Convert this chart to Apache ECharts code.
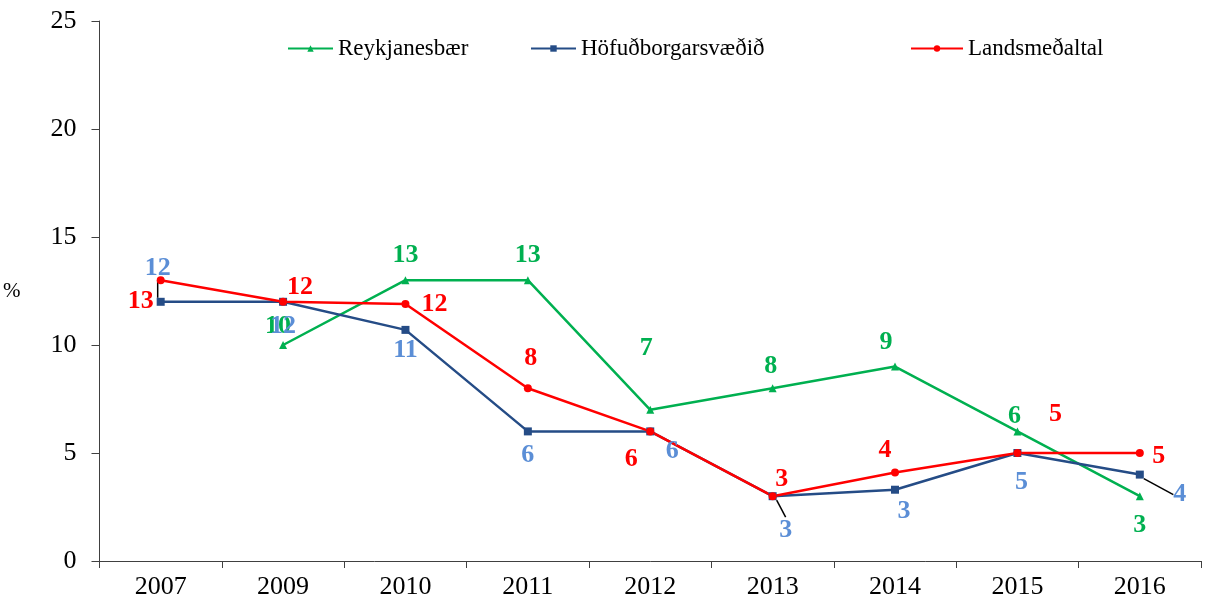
<!DOCTYPE html>
<html>
<head>
<meta charset="utf-8">
<script src="https://cdn.jsdelivr.net/npm/echarts@6/dist/echarts.min.js"></script>
<style>
html,body{margin:0;padding:0;background:#fff;}
#chart{width:1205px;height:605px;}
</style>
</head>
<body>
<div id="chart"></div>
<script>
const categories = ['2007','2009','2010','2011','2012','2013','2014','2015','2016'];
const reykjanesbaer = [null, 10, 13, 13, 7, 8, 9, 6, 3];
const hofudborgarsvaedid = [12, 12, 10.7, 6, 6, 3, 3.3, 5, 4];
const landsmedaltal = [13, 12, 11.9, 8, 6, 3, 4.1, 5, 5];
const seriesNames = ['Reykjanesbær', 'Höfuðborgarsvæðið', 'Landsmeðaltal'];

// label offsets (px) relative to each point
const offGreen = [[0,0],[-5,-19],[0,-25],[0,-25],[-4,-62],[-2,-22],[-9,-24],[-3,-15],[0,29]];
const offBlue  = [[-3,-34],[0,24],[0,20],[0,24],[22,20],[13,34],[9,22],[4,29],[40,20]];
const offRed   = [[-20,21],[17,-15],[29,0],[3,-30],[-19,28],[9,-17],[-10,-22],[38,-39],[19,3]];
const blueLeaders = [0, 5, 8];

const FONT = "'Liberation Serif','Times New Roman',serif";

function labelFmt(p){ return Math.round(p.value); }

function makeData(vals, leaders){
  return vals.map((v,i)=>{
    const item = {value: v};
    if (leaders && leaders.indexOf(i) >= 0) item.labelLine = {show: true};
    return item;
  });
}

function mkSeries(name, vals, lineColor, labelColor, symbol, size, offs, leaders){
  return {
    name: name,
    type: 'line',
    data: makeData(vals, leaders),
    symbol: symbol,
    symbolSize: size,
    showSymbol: true,
    lineStyle: {color: lineColor, width: 2.5},
    itemStyle: {color: lineColor},
    label: {
      show: true,
      position: 'inside',
      formatter: labelFmt,
      color: labelColor,
      fontFamily: FONT,
      fontWeight: 'bold',
      fontSize: 26
    },
    labelLine: {show: false, lineStyle: {color: '#000', width: 1.5}},
    labelLayout: function(p){
      const o = offs[p.dataIndex] || [0,0];
      return {dx: o[0], dy: o[1]};
    },
    emphasis: {disabled: true},
    animation: false
  };
}

const chart = echarts.init(document.getElementById('chart'), null, {renderer: 'canvas'});
const legendText = {fontFamily: FONT, fontSize: 23, color: '#000'};
const legendBase = {top: 37, padding: 0, itemWidth: 45, itemHeight: 8, itemGap: 0, textStyle: legendText, selectedMode: false};
chart.setOption({
  backgroundColor: '#fff',
  animation: false,
  grid: {left: 99, right: 4, top: 21, bottom: 44, containLabel: false},
  legend: [
    Object.assign({data: [seriesNames[0]], left: 287}, legendBase),
    Object.assign({data: [seriesNames[1]], left: 530}, legendBase),
    Object.assign({data: [seriesNames[2]], left: 910}, legendBase, {itemWidth: 52})
  ],
  xAxis: {
    type: 'category',
    data: categories,
    boundaryGap: true,
    axisLine: {lineStyle: {color: '#404040', width: 1}},
    axisTick: {show: true, length: 7, interval: 0, alignWithLabel: false, lineStyle: {color: '#404040'}},
    axisLabel: {fontFamily: FONT, fontSize: 26, color: '#000', margin: 13, interval: 0},
    splitLine: {show: false}
  },
  yAxis: {
    type: 'value',
    min: 0, max: 25, interval: 5,
    name: '%',
    nameLocation: 'middle',
    nameRotate: 0,
    nameGap: 79,
    nameTextStyle: {fontFamily: FONT, fontSize: 21, color: '#000'},
    axisLine: {show: true, lineStyle: {color: '#404040', width: 1}},
    axisTick: {show: true, length: 8, lineStyle: {color: '#404040'}},
    axisLabel: {fontFamily: FONT, fontSize: 26, color: '#000', margin: 23},
    splitLine: {show: false}
  },
  series: [
    mkSeries(seriesNames[0], reykjanesbaer, '#00B050', '#00B050', 'triangle', 8, offGreen, null),
    mkSeries(seriesNames[1], hofudborgarsvaedid, '#254C86', '#5B8ED6', 'rect', 8, offBlue, blueLeaders),
    mkSeries(seriesNames[2], landsmedaltal, '#FF0000', '#FF0000', 'circle', 8, offRed, null)
  ]
});
</script>
</body>
</html>
